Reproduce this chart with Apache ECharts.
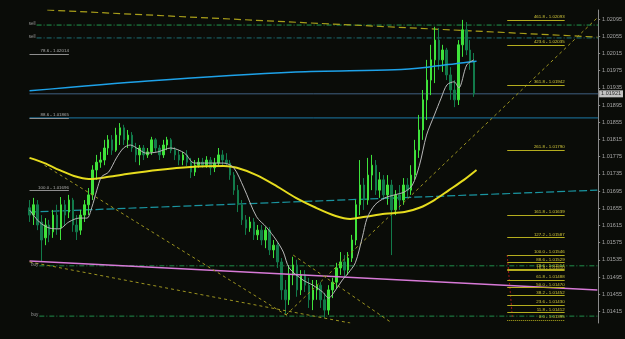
<!DOCTYPE html>
<html><head><meta charset="utf-8">
<script src="https://cdn.jsdelivr.net/npm/echarts@6/dist/echarts.min.js"></script>
<style>html,body{margin:0;padding:0;background:#0a0c08;}#c{width:625px;height:339px;}</style>
</head><body><div id="c"></div>
<script>
// ---- candle data (prices) ----
const openP = [1.01656,1.01639,1.01663,1.01623,1.01586,1.01616,1.01600,1.01639,1.01609,1.01663,
1.01646,1.01674,1.01616,1.01604,1.01639,1.01663,1.01686,1.01744,1.01762,1.01767,
1.01795,1.01814,1.01790,1.01825,1.01842,1.01814,1.01825,1.01795,1.01779,1.01795,
1.01779,1.01786,1.01814,1.01795,1.01779,1.01802,1.01814,1.01790,1.01779,1.01767,
1.01779,1.01762,1.01739,1.01755,1.01762,1.01755,1.01767,1.01749,1.01760,1.01779,
1.01767,1.01760,1.01732,1.01697,1.01663,1.01628,1.01609,1.01623,1.01593,1.01604,
1.01581,1.01604,1.01558,1.01569,1.01530,1.01465,1.01442,1.01500,1.01523,1.01465,
1.01500,1.01476,1.01442,1.01465,1.01476,1.01442,1.01418,1.01465,1.01483,1.01516,
1.01530,1.01511,1.01539,1.01581,1.01663,1.01709,1.01674,1.01732,1.01755,1.01697,
1.01721,1.01686,1.01709,1.01651,1.01686,1.01674,1.01709,1.01697,1.01732,1.01790,
1.01837,1.01907,1.01953,1.02000,1.02046,1.02000,1.02023,1.01965,1.01930,1.01907,
1.02035,1.02070,1.02023,1.01995];
const closeP = [1.01639,1.01663,1.01616,1.01581,1.01616,1.01593,1.01639,1.01609,1.01663,1.01639,
1.01674,1.01616,1.01600,1.01639,1.01663,1.01686,1.01744,1.01762,1.01767,1.01795,
1.01814,1.01790,1.01825,1.01842,1.01814,1.01825,1.01795,1.01779,1.01795,1.01779,
1.01786,1.01814,1.01795,1.01779,1.01802,1.01814,1.01790,1.01779,1.01767,1.01779,
1.01762,1.01739,1.01755,1.01762,1.01755,1.01767,1.01749,1.01760,1.01779,1.01767,
1.01760,1.01732,1.01697,1.01663,1.01628,1.01609,1.01623,1.01593,1.01604,1.01581,
1.01604,1.01558,1.01569,1.01530,1.01465,1.01442,1.01500,1.01523,1.01465,1.01500,
1.01476,1.01442,1.01465,1.01476,1.01442,1.01418,1.01465,1.01483,1.01516,1.01530,
1.01511,1.01539,1.01581,1.01663,1.01709,1.01674,1.01732,1.01755,1.01697,1.01721,
1.01686,1.01709,1.01651,1.01686,1.01674,1.01709,1.01697,1.01732,1.01790,1.01837,
1.01907,1.01953,1.02000,1.02046,1.02000,1.02023,1.01965,1.01930,1.01907,1.02035,
1.02070,1.02023,1.01995,1.01921];
const lowP = [1.01623,1.01616,1.01604,1.01530,1.01569,1.01576,1.01586,1.01593,1.01581,1.01616,
1.01632,1.01600,1.01581,1.01593,1.01623,1.01639,1.01674,1.01721,1.01749,1.01755,
1.01779,1.01779,1.01786,1.01802,1.01802,1.01795,1.01786,1.01762,1.01755,1.01767,
1.01772,1.01779,1.01786,1.01767,1.01772,1.01790,1.01783,1.01767,1.01755,1.01755,
1.01753,1.01725,1.01730,1.01749,1.01749,1.01749,1.01732,1.01739,1.01753,1.01755,
1.01753,1.01721,1.01686,1.01646,1.01616,1.01593,1.01600,1.01581,1.01581,1.01569,
1.01562,1.01546,1.01539,1.01516,1.01442,1.01407,1.01430,1.01476,1.01449,1.01453,
1.01460,1.01423,1.01418,1.01442,1.01423,1.01400,1.01407,1.01446,1.01469,1.01500,
1.01495,1.01500,1.01530,1.01569,1.01639,1.01651,1.01663,1.01697,1.01686,1.01679,
1.01674,1.01663,1.01546,1.01639,1.01651,1.01663,1.01681,1.01686,1.01721,1.01772,
1.01814,1.01860,1.01918,1.01946,1.01977,1.01972,1.01953,1.01907,1.01890,1.01895,
1.02007,1.02011,1.01977,1.01914];
const highP = [1.01674,1.01679,1.01674,1.01639,1.01632,1.01628,1.01651,1.01663,1.01681,1.01674,
1.01686,1.01679,1.01639,1.01651,1.01674,1.01702,1.01755,1.01779,1.01786,1.01814,
1.01825,1.01825,1.01842,1.01853,1.01849,1.01837,1.01832,1.01807,1.01802,1.01802,
1.01795,1.01821,1.01818,1.01802,1.01814,1.01821,1.01818,1.01797,1.01790,1.01786,
1.01790,1.01772,1.01767,1.01772,1.01772,1.01776,1.01774,1.01772,1.01795,1.01790,
1.01783,1.01767,1.01739,1.01709,1.01674,1.01639,1.01635,1.01632,1.01616,1.01616,
1.01611,1.01611,1.01581,1.01576,1.01539,1.01488,1.01523,1.01542,1.01535,1.01511,
1.01511,1.01493,1.01488,1.01488,1.01483,1.01458,1.01476,1.01493,1.01528,1.01553,
1.01546,1.01553,1.01593,1.01674,1.01767,1.01725,1.01772,1.01779,1.01767,1.01739,
1.01732,1.01732,1.01721,1.01697,1.01709,1.01725,1.01725,1.01755,1.01814,1.01872,
1.01930,1.02000,1.02035,1.02077,1.02074,1.02035,1.02028,1.01983,1.01953,1.02046,
1.02093,1.02088,1.02046,1.02016];

// ---- indicator readings [bar index, price] ----
const maFast = [[0,1.01651],[2.5,1.01623],[5,1.01609],[7.5,1.01607],[10,1.01623],[12.6,1.01632],[14.6,1.01632],[15.8,1.01656],[17.1,1.01697],[18.3,1.01728],[20.1,1.01739],[22.1,1.01772],[23.9,1.01795],[25.6,1.01802],[27.6,1.01793],[29.6,1.01783],[32.6,1.01786],[35.9,1.01795],[39.4,1.01783],[41.9,1.01760],[45.2,1.01760],[49.4,1.01760],[51.9,1.01749],[54.4,1.01704],[57.7,1.01635],[60.2,1.01611],[62.7,1.01581],[64.5,1.01553],[66,1.01516],[69.5,1.01488],[72,1.01476],[74.5,1.01460],[76,1.01446],[77.8,1.01465],[79.5,1.01488],[81,1.01504],[82.8,1.01528],[84.6,1.01588],[85.8,1.01632],[87.8,1.01663],[90.3,1.01679],[92.8,1.01686],[95.3,1.01693],[97.3,1.01709],[99.1,1.01755],[100.9,1.01825],[102.9,1.01872],[104.6,1.01911],[106.1,1.01942],[107.9,1.01949],[109.1,1.01935],[111.1,1.01988],[112.9,1.02000]];
const maSlow = [[0,1.01772],[3.8,1.01760],[7.5,1.01744],[11.3,1.01730],[15.1,1.01723],[20.1,1.01728],[25.1,1.01735],[32.6,1.01744],[40.9,1.01751],[49.4,1.01753],[52.7,1.01749],[57.7,1.01732],[62.7,1.01707],[67.7,1.01679],[72.8,1.01656],[77.8,1.01637],[81.5,1.01630],[85.3,1.01635],[90.3,1.01642],[95.3,1.01646],[99.1,1.01656],[102.9,1.01674],[106.6,1.01697],[110.4,1.01721],[113.6,1.01744]];
const maLong = [[0,1.01928],[30.1,1.01951],[67.7,1.01972],[92.8,1.01977],[101.1,1.01983],[109.6,1.01993],[113.6,1.01997]];

// ---- drawn objects [bar index, price] ----
const topDash = [[4.5,1.02116],[144.3,1.02053]];
const sellLevels = [1.02081, 1.02051];
const buyLevels = [1.01521, 1.01404];
const lastPrice = 1.01921;
const blueLevel = 1.01865;
const tealDash = [[0,1.01646],[144.3,1.01697]];
const magentaLine = [[0,1.01532],[144.3,1.01465]];
const diagDown1 = [[3.8,1.01755],[65.7,1.01404]];
const diagDown2 = [[0,1.01530],[81.5,1.01388]];
const diagDown3 = [[67,1.01546],[92.1,1.01388]];
const diagUp = [[65.2,1.01407],[144.3,1.02098]];
const redDotted = [[121.4,1.01546],[122.7,1.01402]];

const fibRatios = ['461.8','423.6','361.8','261.8','161.8','127.2','100.0','88.6','78.6','76.4','61.8','50.0','38.2','23.6','11.8','0.0'];
const fibPrices = [1.02093,1.02035,1.01942,1.01790,1.01639,1.01587,1.01546,1.01529,1.01514,1.01510,1.01488,1.01470,1.01452,1.01430,1.01412,1.01395];
const fibSpan = [121.4, 136.0];
const leftFibRatios = ['78.6','88.6','100.0'];
const leftFibPrices = [1.02014, 1.01865, 1.01696];
const leftFibSpan = [0, 10];

const tickValues = [1.01415,1.01455,1.01495,1.01535,1.01575,1.01615,1.01655,1.01695,1.01735,1.01775,1.01815,1.01855,1.01895,1.01935,1.01975,1.02015,1.02055,1.02095];

// ---- build ----
const LEAD = 7, TRAIL = 31;
const N = openP.length;
const cats = [], candles = [];
for (let k = 0; k < LEAD + N + TRAIL; k++) {
  cats.push(String(k));
  const i = k - LEAD;
  candles.push(i >= 0 && i < N ? [openP[i], closeP[i], lowP[i], highP[i]] : '-');
}
const XMIN = -LEAD - 0.5, XMAX = N + TRAIL - 0.5;

function seg(pts, style, z) {
  return {type:'line', xAxisIndex:1, yAxisIndex:0, data:pts, symbol:'none', silent:true,
    lineStyle:style, z:z||3, animation:false};
}
function hseg(x0, x1, p) { return [[x0,p],[x1,p]]; }

const series = [];
series.push({
  type:'candlestick', xAxisIndex:0, yAxisIndex:0, data:candles, barWidth:2, z:2,
  itemStyle:{color:'#3fe23b', color0:'#127a4a', borderColor:'#3fe23b', borderColor0:'#127a4a', borderWidth:1},
  animation:false, silent:true
});
series.push(seg(hseg(0, XMAX, blueLevel), {color:'#1b7aa8', width:1}, 1));
series.push(seg(hseg(0, XMAX, lastPrice), {color:'#3f5f80', width:1}, 1));
sellLevels.forEach((p, j) => series.push(seg(hseg(1.8, XMAX, p), {color: j===0 ? '#22994f' : '#1d7078', width:1, type:[5,2,1,2]}, 1)));
buyLevels.forEach(p => series.push(seg(hseg(2.5, XMAX, p), {color:'#1f8f4a', width:1, type:[5,2,1,2]}, 1)));
series.push(seg(topDash, {color:'#a89e1a', width:1.2, type:[7,4]}, 1));
series.push(seg(tealDash, {color:'#1a95a0', width:1.2, type:[8,3]}, 1));
series.push(seg(magentaLine, {color:'#d77ad7', width:1.5}, 4));
[diagDown1, diagDown2, diagDown3, diagUp].forEach(d => series.push(seg(d, {color:'#9c9420', width:1, type:[3,3]}, 4)));
series.push(seg(redDotted, {color:'#a01818', width:1, type:[2,2]}, 4));
series.push({type:'line', xAxisIndex:1, data:maSlow, smooth:0.3, symbol:'none', silent:true, animation:false, z:5, lineStyle:{color:'#e6dc1e', width:2}});
series.push({type:'line', xAxisIndex:1, data:maFast, smooth:0.3, symbol:'none', silent:true, animation:false, z:6, lineStyle:{color:'#b8b8b8', width:1}});
series.push({type:'line', xAxisIndex:1, data:maLong, smooth:0.3, symbol:'none', silent:true, animation:false, z:5, lineStyle:{color:'#1ea2e8', width:1.5}});

const fibMarks = fibRatios.map((r, j) => [
  {coord:[fibSpan[0], fibPrices[j]], name: r + ' - ' + fibPrices[j].toFixed(5),
   lineStyle:{color:'#b5ae1e', width:1, type: j===fibRatios.length-1 ? [1,1] : 'solid'}},
  {coord:[fibSpan[1], fibPrices[j]]}
]);
const leftMarks = leftFibRatios.map((r, j) => [
  {coord:[leftFibSpan[0], leftFibPrices[j]], name: r + ' - ' + leftFibPrices[j].toFixed(5)},
  {coord:[leftFibSpan[1], leftFibPrices[j]]}
]);
series.push({type:'line', xAxisIndex:1, data:[], silent:true, animation:false, z:7,
  markLine:{silent:true, symbol:['none','none'], animation:false,
    lineStyle:{color:'#b5ae1e', width:1, type:'solid'},
    label:{show:true, position:'insideEndTop', formatter:'{b}', color:'#d2c83a', fontSize:4.4, fontFamily:'Liberation Sans', distance:[0,1]},
    data: fibMarks}});
series.push({type:'line', xAxisIndex:1, data:[], silent:true, animation:false, z:7,
  markLine:{silent:true, symbol:['none','none'], animation:false,
    lineStyle:{color:'#8e8e8e', width:1, type:'solid'},
    label:{show:true, position:'insideEndTop', formatter:'{b}', color:'#b0b0b0', fontSize:4.4, fontFamily:'Liberation Sans', distance:[0,1]},
    data: leftMarks}});
// sell / buy texts
const textPts = sellLevels.map(p => ({value:[1.8, p], name:'sell'})).concat(buyLevels.map(p => ({value:[2.5, p], name:'buy'})));
series.push({type:'scatter', xAxisIndex:1, data:textPts, symbolSize:0, silent:true, animation:false, z:8, clip:false,
  label:{show:true, position:'left', distance:1, formatter:'{b}', color:'#b4b4b4', fontSize:4.6, fontFamily:'Liberation Sans', offset:[0,-1]}});
// current price tag
series.push({type:'scatter', xAxisIndex:1, data:[{value:[XMAX, lastPrice]}], symbolSize:0, silent:true, animation:false, z:9, clip:false,
  label:{show:true, position:'right', distance:1, formatter: () => lastPrice.toFixed(5), color:'#000', backgroundColor:'#f0f0f0',
    fontSize:5.5, fontFamily:'Liberation Sans', padding:[1,2,0,2]}});

const chart = echarts.init(document.getElementById('c'));
chart.setOption({
  backgroundColor:'#0a0c08',
  animation:false,
  grid:{left:0, right:19, top:10, bottom:16, containLabel:false},
  xAxis:[
    {type:'category', data:cats, show:false, boundaryGap:true},
    {type:'value', min:XMIN, max:XMAX, show:false}
  ],
  yAxis:[{
    type:'value', position:'right', min:1.01388, max:1.02116,
    splitLine:{show:false},
    axisLine:{show:true, onZero:false, lineStyle:{color:'#8a8a8a', width:1}},
    axisTick:{show:true, length:2, customValues:tickValues, lineStyle:{color:'#8a8a8a'}},
    axisLabel:{show:true, customValues:tickValues, formatter:v => v.toFixed(5), color:'#a6a6a6', fontSize:5.5, fontFamily:'Liberation Sans', margin:4}
  }],
  series: series
});
</script>
</body></html>
